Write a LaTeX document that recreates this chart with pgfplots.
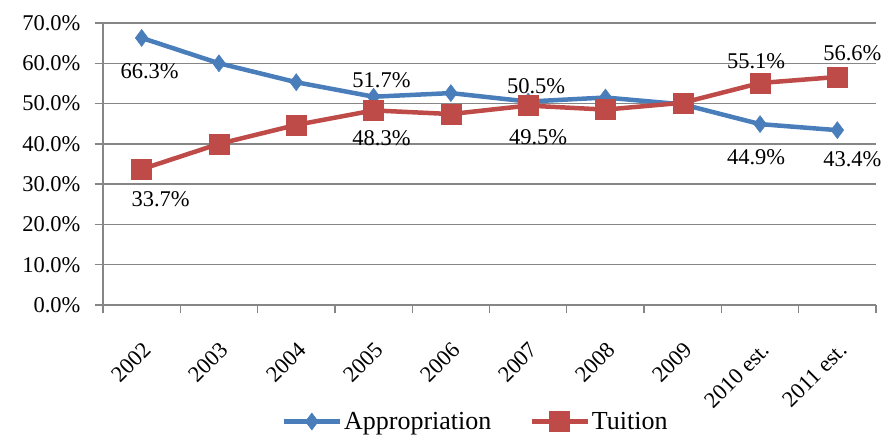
\documentclass[border=0pt]{standalone}
\usepackage{fontspec}
\setmainfont{Liberation Serif}
\usepackage{pgfplots}
\usepackage{pgfplotstable}
\pgfplotsset{compat=1.18}

\definecolor{approp}{HTML}{4A7EBB}
\definecolor{tuit}{HTML}{BE4B48}
\definecolor{gridgray}{HTML}{868686}

% year index, share in percent
\pgfplotstableread{
x  approp tuition
0  66.3   33.7
1  60.0   40.0
2  55.3   44.7
3  51.7   48.3
4  52.6   47.4
5  50.5   49.5
6  51.5   48.5
7  49.8   50.2
8  44.9   55.1
9  43.4   56.6
}\shares

% data labels: value and offset from the point (pt)
\pgfplotstableread{
x  y     dx   dy
0  66.3  8    -33
0  33.7  19   -30
3  51.7  8    17
3  48.3  8    -28
5  50.5  8    15
5  49.5  10   -32
8  55.1  -4   22
8  44.9  -4   -33
9  56.6  15   24
9  43.4  15   -29
}\labels

\begin{document}
\begin{tikzpicture}
\begin{axis}[
  name=ax,
  width=773pt, height=282pt, scale only axis,
  xmin=-0.5, xmax=9.5, ymin=0, ymax=70,
  xtick={-0.5,0.5,...,9.5},
  x tick label as interval,
  xticklabels={2002,2003,2004,2005,2006,2007,2008,2009,2010 est.,2011 est.},
  ytick={0,10,...,70},
  yticklabel={\pgfmathprintnumber[fixed,fixed zerofill,precision=1]{\tick}\%},
  /pgf/number format/assume math mode=true,
  axis lines*=left,
  axis line style={-, gridgray, line width=1.3pt},
  ymajorgrids,
  grid style={gridgray, line width=1.3pt},
  tick style={gridgray, line width=1.3pt},
  tick align=outside,
  major tick length=8pt,
  ticklabel style={font=\fontsize{22.5}{23}\selectfont},
  yticklabel style={xshift=-11pt},
  xticklabel style={anchor=east, xshift=8pt, yshift=-31pt, rotate=45},
  legend style={at={(0.482,-0.365)}, anchor=north, draw=none, fill=none,
    legend columns=2, font=\fontsize{26}{26}\selectfont,
    /tikz/every even column/.append style={column sep=36pt}},
  legend image code/.code={\draw[mark repeat=2,mark phase=2]
    plot coordinates {(0pt,0pt)(28pt,0pt)(56pt,0pt)};},
]
\addplot[approp, line width=4.5pt, mark=diamond*, mark size=8.5pt,
  mark options={solid, line width=0.5pt}] table[x=x, y=approp] {\shares};
\addlegendentry{Appropriation}
\addplot[tuit, line width=4.5pt, mark=square*, mark size=10pt,
  mark options={solid, line width=0.5pt}] table[x=x, y=tuition] {\shares};
\addlegendentry{Tuition}

\addplot[draw=none, mark=none, forget plot,
  visualization depends on={\thisrow{dx} \as \dx},
  visualization depends on={\thisrow{dy} \as \dy},
  point meta=y,
  nodes near coords={\pgfmathprintnumber[fixed,fixed zerofill,precision=1]{\pgfplotspointmeta}\%},
  nodes near coords style={anchor=center, xshift=\dx pt, yshift=\dy pt,
    font=\fontsize{22.5}{23}\selectfont, text=black}]
  table[x=x, y=y] {\labels};
\end{axis}
\pgfresetboundingbox
\path[use as bounding box] ([xshift=-103pt,yshift=-132pt]ax.south west)
  rectangle ([xshift=10pt,yshift=23pt]ax.north east);
\end{tikzpicture}
\end{document}
